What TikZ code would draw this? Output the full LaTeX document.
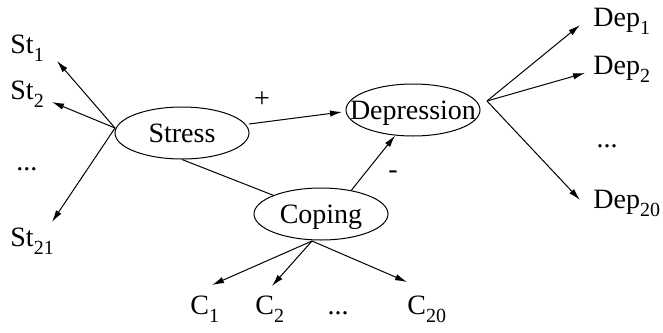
\documentclass[tikz,border=0pt]{standalone}
\usepackage{fontspec}
\setmainfont{Liberation Serif}
\usetikzlibrary{arrows.meta,shapes.geometric}
\newcommand{\mysub}[1]{\raisebox{-4pt}{\fontsize{10}{10}\selectfont #1}}
\begin{document}
\begin{tikzpicture}[x=0.5pt,y=-0.5pt,
  every node/.style={font=\fontsize{14}{17}\selectfont},
  latent/.style={ellipse,draw,line width=0.5pt,minimum width=67pt,minimum height=26pt,inner sep=0pt,text height=9.3pt,text depth=0pt},
  lbl/.style={anchor=base west,inner sep=0pt},
  arr/.style={-{Latex[length=6pt,width=3.2pt]},line width=0.5pt},
  link/.style={line width=0.5pt}]
\useasboundingbox (0,0) rectangle (663,332);
% latent nodes
\node[latent] (stress) at (182,133) {\makebox[0pt]{Stress}};
\node[latent] (dep) at (413,110) {\makebox[0pt]{Depression}};
\node[latent] (cop) at (321,214) {\makebox[0pt]{Coping}};
% labels
\node[lbl] (st1) at (10,54) {St\mysub{1}};
\node[lbl] (st2) at (10,99) {St\mysub{2}};
\node[anchor=base,inner sep=0pt] (stdots) at (27,170) {...};
\node[lbl] (st21) at (10,246) {St\mysub{21}};
\node[lbl] (d1) at (593,26) {Dep\mysub{1}};
\node[lbl] (d2) at (593,74) {Dep\mysub{2}};
\node[anchor=base,inner sep=0pt] (ddots) at (607,147) {...};
\node[lbl] (d20) at (593,208) {Dep\mysub{20}};
\node[lbl] (c1) at (190,314) {C\mysub{1}};
\node[lbl] (c2) at (255,314) {C\mysub{2}};
\node[anchor=base,inner sep=0pt] (cdots) at (338,314) {...};
\node[lbl] (c20) at (407,314) {C\mysub{20}};
\node[inner sep=0pt] (plus) at (262,100) {+};
\node[inner sep=0pt] (minus) at (393,175) {-};
% arrow end points
\coordinate (s0) at (115,128);
\coordinate (st1e) at (57,61);
\coordinate (st2e) at (52,102);
\coordinate (st21e) at (52,222);
\coordinate (d0) at (487,101);
\coordinate (d1e) at (580,25);
\coordinate (d2e) at (585,73);
\coordinate (d20e) at (580,200);
\coordinate (c0) at (312,241);
\coordinate (c1e) at (212,285);
\coordinate (c2e) at (272,286);
\coordinate (c20e) at (407,282);
\coordinate (sd0) at (249,124);
\coordinate (sd1) at (342,112);
% connectors
\draw[arr] (s0) -- (st1e);
\draw[arr] (s0) -- (st2e);
\draw[arr] (s0) -- (st21e);
\draw[arr] (d0) -- (d1e);
\draw[arr] (d0) -- (d2e);
\draw[arr] (d0) -- (d20e);
\draw[arr] (c0) -- (c1e);
\draw[arr] (c0) -- (c2e);
\draw[arr] (c0) -- (c20e);
\draw[arr] (sd0) -- (sd1);
\draw[arr] (cop.38) -- (dep.235);
\draw[link] (stress.south) -- (cop);
\end{tikzpicture}
\end{document}
